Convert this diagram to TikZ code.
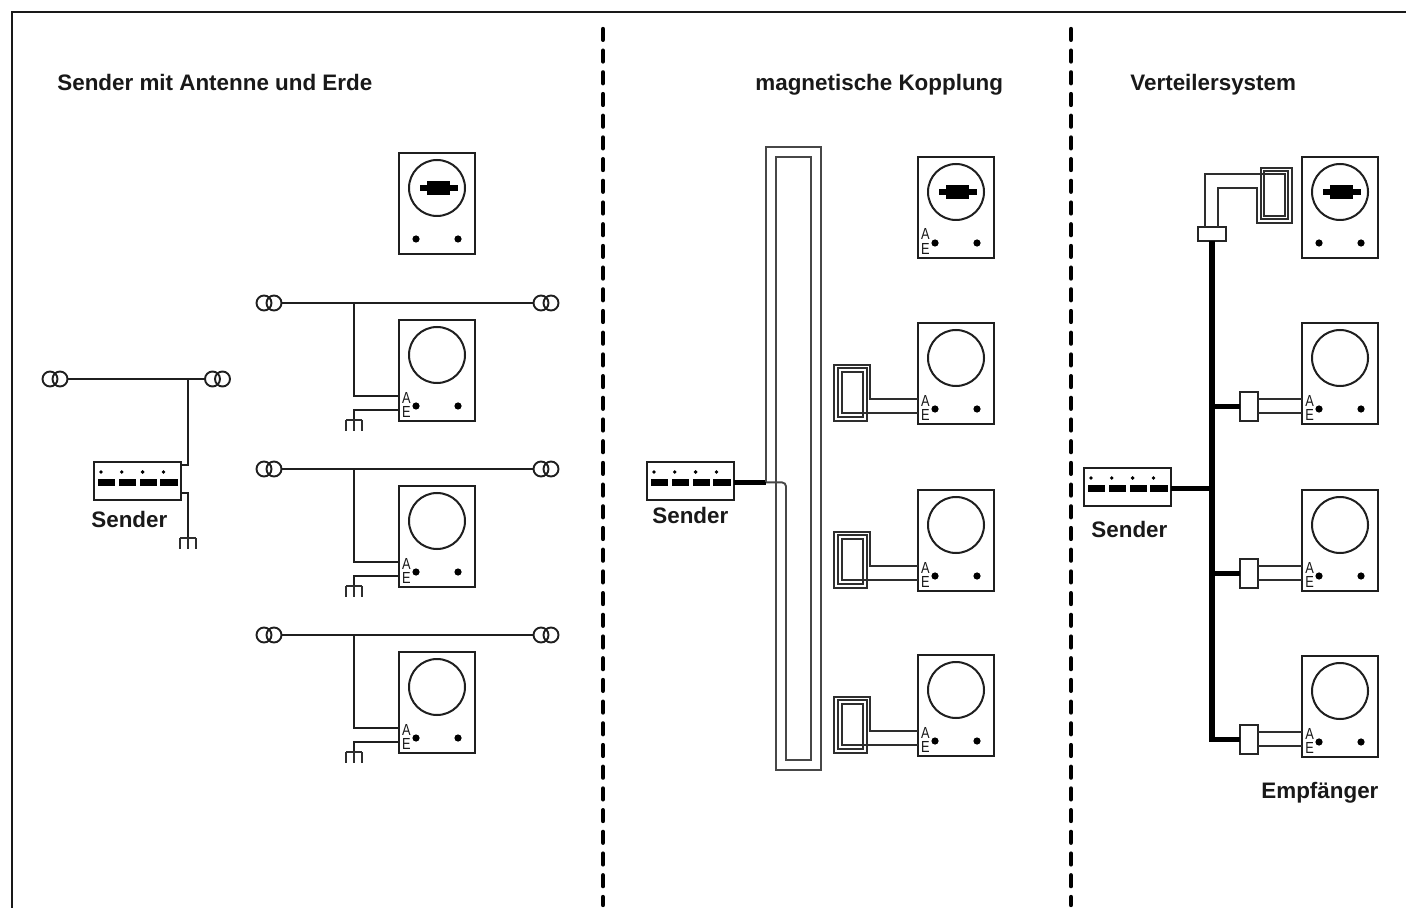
\documentclass[tikz,border=0pt]{standalone}
\usepackage{graphicx}
\usepackage{fontspec}
\setmainfont{Liberation Sans}
\tikzset{
  x=0.5pt,y=-0.5pt,
  wire/.style={line width=1.05pt,draw=black!88,line join=miter},
  fine/.style={line width=1.05pt,draw=black!82,line join=miter},
  loopline/.style={line width=0.95pt,draw=black!72,line join=miter},
  bus/.style={line width=2.6pt,draw=black},
  tvbox/.style={draw=black!88,line width=1.05pt,fill=white,rectangle,minimum width=38pt,minimum height=50.5pt,inner sep=0pt,outer sep=0pt},
  senderbox/.style={draw=black!88,line width=1.05pt,fill=white,rectangle,minimum width=43.5pt,minimum height=19pt,inner sep=0pt,outer sep=0pt},
  splitter/.style={draw=black!85,line width=1pt,fill=white,rectangle,inner sep=0pt,outer sep=0pt},
  screen/.style={draw=black!88,line width=1pt,circle,minimum size=28pt,inner sep=0pt,outer sep=0pt},
  knob/.style={fill=black,circle,minimum size=3.6pt,inner sep=0pt,outer sep=0pt},
  pin/.style={fill=black,circle,minimum size=1.9pt,inner sep=0pt,outer sep=0pt},
  title/.style={font=\bfseries\fontsize{11.2pt}{12pt}\selectfont,anchor=base west,inner sep=0pt,text=black!90},
  port/.style={font=\fontsize{8pt}{8pt}\selectfont,inner sep=0pt,text=black!90},
  dipole/.style={draw=black!88,line width=0.95pt,circle,minimum size=7.5pt,inner sep=0pt,outer sep=0pt},
  divider/.style={line width=2.2pt,draw=black,line cap=round,dash pattern=on 5.4pt off 5.45pt},
  frameline/.style={line width=0.9pt,draw=black!90},
}
\newcommand{\tvset}[3]{%
  \node[tvbox,anchor=north west] (#1) at (#2,#3) {};
  \node[screen] (#1-s) at ([xshift=19pt,yshift=-17.5pt]#1.north west) {};
  \node[knob] (#1-k1) at ([xshift=8.5pt,yshift=-43pt]#1.north west) {};
  \node[knob] (#1-k2) at ([xshift=29.5pt,yshift=-43pt]#1.north west) {};
  \coordinate (#1-a) at ([yshift=-38pt]#1.north west);
  \coordinate (#1-e) at ([yshift=-45pt]#1.north west);
}
\newcommand{\tvports}[1]{%
  \node[port] (#1-A) at ([xshift=3.75pt,yshift=-38.75pt]#1.north west) {\scalebox{0.8}[1]{A}};
  \node[port] (#1-E) at ([xshift=3.75pt,yshift=-45.75pt]#1.north west) {\scalebox{0.8}[1]{E}};
}
\newcommand{\tvpicture}[1]{%
  \fill[black] ([xshift=-8.5pt,yshift=1.5pt]#1-s.center) rectangle ([xshift=10.5pt,yshift=-1.5pt]#1-s.center);
  \fill[black] ([xshift=-5pt,yshift=3.5pt]#1-s.center) rectangle ([xshift=6.5pt,yshift=-3.5pt]#1-s.center);
}
\newcommand{\senderset}[3]{%
  \node[senderbox,anchor=north west] (#1) at (#2,#3) {};
  \foreach \i in {0,1,2,3}{
    \node[pin] (#1-p\i) at ([xshift={3.5pt+10.4pt*\i},yshift=-5pt]#1.north west) {};
    \fill[black] ([xshift={2pt+10.4pt*\i},yshift=-8.5pt]#1.north west) rectangle ([xshift={10.6pt+10.4pt*\i},yshift=-12pt]#1.north west);
  }
  \coordinate (#1-out) at ([yshift=-10.2pt]#1.north east);
}
\newcommand{\dipolepair}[3]{%
  \node[dipole] (#1-1) at (#2,#3) {};
  \node[dipole] (#1-2) at ([xshift=5pt]#1-1.center) {};
}
\newcommand{\groundsym}[1]{%
  \draw[fine] ([xshift=-4pt]#1) -- ([xshift=4pt]#1);
  \draw[fine] ([xshift=-4pt]#1) -- ([xshift=-4pt,yshift=-5.5pt]#1);
  \draw[fine] (#1) -- ([yshift=-5.5pt]#1);
  \draw[fine] ([xshift=4pt]#1) -- ([xshift=4pt,yshift=-5.5pt]#1);
}
\begin{document}
\begin{tikzpicture}
\useasboundingbox (0,0) rectangle (1406,908);
\fill[white] (0,0) rectangle (1406,908);
% outer frame: left and top only
\coordinate (f1) at (12,908);
\coordinate (f2) at (12,12);
\coordinate (f3) at (1406,12);
\draw[frameline] (f1) -- (f2) -- (f3);
% dividers
\coordinate (d1a) at (603,29); \coordinate (d1b) at (603,905);
\coordinate (d2a) at (1071,29); \coordinate (d2b) at (1071,905);
\draw[divider] (d1a) -- (d1b);
\draw[divider] (d2a) -- (d2b);
% titles
\node[title] (t1) at (57,91) {Sender mit Antenne und Erde};
\node[title] (t2) at (755,91) {magnetische Kopplung};
\node[title] (t3) at (1130,91) {Verteilersystem};
\node[title] (t4) at (1261,798) {Empfänger};
\node[title] (s1) at (91,527) {Sender};
\node[title] (s2) at (652,523) {Sender};
\node[title] (s3) at (1091,537) {Sender};

% ---------- left panel
\tvset{La}{399}{153}
\tvpicture{La}
\foreach \n/\y in {b/320,c/486,d/652}{
  \tvset{L\n}{399}{\y}
  \tvports{L\n}
  \dipolepair{P\n l}{264}{\y-17}
  \dipolepair{P\n r}{541}{\y-17}
  \draw[wire] (P\n l-2) -- (P\n r-1);
  \coordinate (J\n) at (354,\y-17);
  \draw[wire] (J\n) |- (L\n-a);
  \coordinate (G\n) at (354,\y+100);
  \draw[wire] (L\n-e) -| (G\n);
  \groundsym{G\n}
}
\senderset{S1}{94}{462}
\dipolepair{Ql}{50}{379}
\dipolepair{Qr}{212.5}{379}
\draw[wire] (Ql-2) -- (Qr-1);
\coordinate (QJ) at (188,379);
\coordinate (S1t) at (181,465);
\coordinate (S1b) at (181,493);
\coordinate (S1g) at (188,538);
\draw[wire] (QJ) |- (S1t);
\draw[wire] (S1b) -| (S1g);
\groundsym{S1g}

% ---------- middle panel
\tvset{Ma}{918}{157}
\tvpicture{Ma}
\tvports{Ma}
\foreach \n/\y in {b/323,c/490,d/655}{
  \tvset{M\n}{918}{\y}
  \tvports{M\n}
  \begin{scope}[shift={(0,\y)}]
  \draw[fine] (M\n-e) -- (842,90) -- (842,49) -- (863,49) -- (863,94) -- (838,94) -- (838,45) -- (867,45) -- (867,98) -- (834,98) -- (834,42) -- (870,42) -- (870,76) -- (M\n-a);
  \end{scope}
}
\senderset{S2}{647}{462}
\coordinate (mx) at (766,462);
\coordinate (ml) at (mx |- S2-out);
\coordinate (mk) at (786,462);
\coordinate (mc) at (mk |- S2-out);
\draw[bus,line width=2.4pt] (S2-out) -- (ml);
\draw[loopline] (ml) -- (766,147) -- (821,147) -- (821,770) -- (776,770) -- (776,157) -- (811,157) -- (811,760) -- (786,760) -- (786,490);
\draw[loopline,rounded corners=2pt] (786,491) -- (mc) -- (ml);

% ---------- right panel
\tvset{Ra}{1302}{157}
\tvpicture{Ra}
\foreach \n/\y in {b/323,c/490,d/656}{
  \tvset{R\n}{1302}{\y}
  \tvports{R\n}
  \coordinate (B\n) at (1212,\y+83.5);
  \node[splitter,anchor=north west,minimum width=9pt,minimum height=14.5pt] (T\n) at (1240,\y+69) {};
  \draw[bus,line width=2.4pt] (B\n) -- (T\n.west |- B\n);
  \draw[fine] (T\n.east |- R\n-a) -- (R\n-a);
  \draw[fine] (T\n.east |- R\n-e) -- (R\n-e);
}
\senderset{S3}{1084}{468}
\node[splitter,anchor=north west,minimum width=14pt,minimum height=7pt] (Ts) at (1198,227) {};
\coordinate (Bb) at (1212,741.7);
\draw[bus] (Ts.south) -- (Bb);
\coordinate (Bx) at (1212,468);
\coordinate (Bs) at (Bx |- S3-out);
\draw[bus] (S3-out) -- (Bs);
\draw[fine] (1218,227) -- (1218,188) -- (1257,188) -- (1257,223) -- (1292,223) -- (1292,168) -- (1261,168) -- (1261,219) -- (1288,219) -- (1288,171) -- (1264,171) -- (1264,216) -- (1285,216) -- (1285,174) -- (1205,174) -- (1205,227);
\end{tikzpicture}
\end{document}
